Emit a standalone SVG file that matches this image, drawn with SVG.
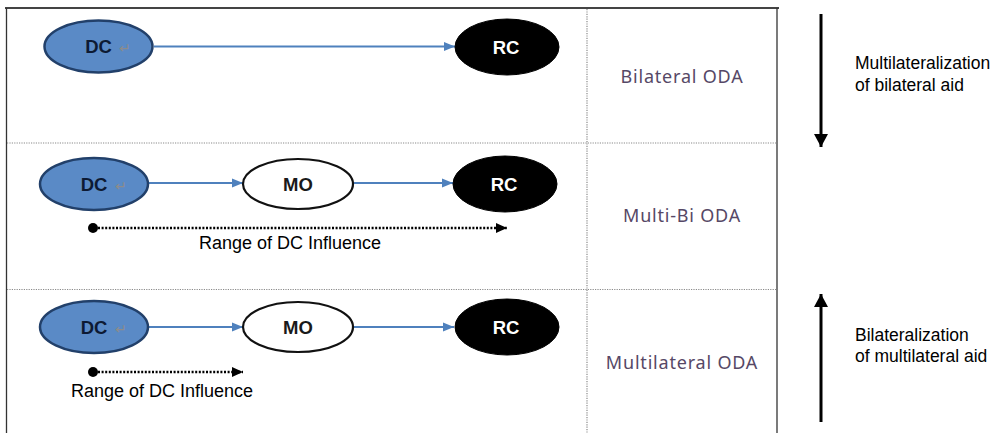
<svg xmlns="http://www.w3.org/2000/svg" width="1000" height="433" viewBox="0 0 1000 433">
<style>
.dc{fill:#5a8ac6;stroke:#22406a;stroke-width:2.5}
.mo{fill:#ffffff;stroke:#111;stroke-width:2.2}
.rc{fill:#000;stroke:#000;stroke-width:1}
.lbl{font-family:"Liberation Sans",Arial,sans-serif;font-weight:bold;font-size:18.5px;text-anchor:middle}
.pm{font-family:"DejaVu Sans",sans-serif;font-size:14px;fill:#8c8c8c}
.flow{stroke:#4f81bd;stroke-width:2;fill:none}
.dot{stroke:#000;stroke-width:2.5;stroke-dasharray:2 1.6;fill:none}
.big{stroke:#000;stroke-width:3;fill:none}
.txt{font-family:"Liberation Sans",Arial,sans-serif;font-size:18px;fill:#000}
.side{font-family:"Liberation Sans",Arial,sans-serif;font-size:17.5px;fill:#000}
.oda{font-family:"Noto Sans",sans-serif;font-size:18px;fill:#564866;text-anchor:middle;letter-spacing:0.8px}
.grid{stroke:#8a8a8a;stroke-width:1.2;stroke-dasharray:1.2 1.2;fill:none}
.frame{stroke:#333;stroke-width:1.3;fill:none}
</style>
<defs>
<marker id="blue" markerUnits="userSpaceOnUse" markerWidth="12" markerHeight="12" refX="11" refY="6" orient="auto"><path d="M0,1.5 L11,6 L0,10.5 z" fill="#4f81bd"/></marker>
<marker id="blk" markerUnits="userSpaceOnUse" markerWidth="12" markerHeight="12" refX="11" refY="6" orient="auto"><path d="M0,1 L11,6 L0,11 z" fill="#000"/></marker>
<marker id="bigh" markerUnits="userSpaceOnUse" markerWidth="14" markerHeight="16" refX="13" refY="8" orient="auto"><path d="M0,1 L13,8 L0,15 z" fill="#000"/></marker>
</defs>

<g id="table">
<line x1="5" y1="8" x2="779" y2="8" stroke="#444" stroke-width="2.2"/>
<line class="frame" x1="6.5" y1="8" x2="6.5" y2="433"/>
<line class="frame" x1="777" y1="8" x2="777" y2="433"/>
<line class="grid" x1="587" y1="9" x2="587" y2="433"/>
<line class="grid" x1="7" y1="143" x2="777" y2="143"/>
<line class="grid" x1="7" y1="289.5" x2="777" y2="289.5"/>
</g>

<g id="connectors">
<line class="flow" x1="154" y1="46.5" x2="455" y2="46.5" marker-end="url(#blue)"/>
<line class="flow" x1="148" y1="183" x2="243" y2="183" marker-end="url(#blue)"/>
<line class="flow" x1="353" y1="183" x2="453" y2="183" marker-end="url(#blue)"/>
<line class="flow" x1="148" y1="327" x2="243" y2="327" marker-end="url(#blue)"/>
<line class="flow" x1="353" y1="327" x2="454" y2="327" marker-end="url(#blue)"/>
<line class="dot" x1="98" y1="228" x2="507" y2="228" marker-end="url(#blk)"/>
<circle cx="93" cy="228" r="5"/>
<line class="dot" x1="98" y1="372" x2="243" y2="372" marker-end="url(#blk)"/>
<circle cx="93" cy="372" r="5"/>
<line class="big" x1="821" y1="14" x2="821" y2="147" marker-end="url(#bigh)"/>
<line class="big" x1="821" y1="422" x2="821" y2="294" marker-end="url(#bigh)"/>
</g>

<g id="dc1"><ellipse class="dc" cx="98.5" cy="46.5" rx="54" ry="26"/><text class="lbl" x="98.5" y="53" fill="#0d1a33">DC</text><text class="pm" x="119" y="53">↵</text></g>
<g id="rc1"><ellipse class="rc" cx="507" cy="47" rx="52" ry="28"/><text class="lbl" x="506" y="54" fill="#fff">RC</text></g>

<g id="dc2"><ellipse class="dc" cx="94" cy="184" rx="54" ry="26"/><text class="lbl" x="94" y="191" fill="#0d1a33">DC</text><text class="pm" x="115" y="191">↵</text></g>
<g id="mo2"><ellipse class="mo" cx="298" cy="184" rx="55" ry="25"/><text class="lbl" x="298" y="191" fill="#1a1a1a">MO</text></g>
<g id="rc2"><ellipse class="rc" cx="505" cy="184" rx="52" ry="28"/><text class="lbl" x="504" y="191" fill="#fff">RC</text></g>

<g id="dc3"><ellipse class="dc" cx="94" cy="327" rx="54" ry="26"/><text class="lbl" x="94" y="334" fill="#0d1a33">DC</text><text class="pm" x="115" y="334">↵</text></g>
<g id="mo3"><ellipse class="mo" cx="298" cy="327" rx="55" ry="25"/><text class="lbl" x="298" y="334" fill="#1a1a1a">MO</text></g>
<g id="rc3"><ellipse class="rc" cx="507" cy="327" rx="52" ry="28"/><text class="lbl" x="506" y="334" fill="#fff">RC</text></g>

<g id="range2"><text class="txt" x="290" y="249" text-anchor="middle">Range of DC Influence</text></g>
<g id="range3"><text class="txt" x="71" y="397">Range of DC Influence</text></g>

<g id="bilateral"><text class="oda" x="682" y="83">Bilateral ODA</text></g>
<g id="multibi"><text class="oda" x="682" y="222">Multi-Bi ODA</text></g>
<g id="multilateral"><text class="oda" x="682" y="369">Multilateral ODA</text></g>

<g id="multilateralization"><text class="side" x="855" y="69">Multilateralization</text><text class="side" x="855" y="91">of bilateral aid</text></g>
<g id="bilateralization"><text class="side" x="855" y="341">Bilateralization</text><text class="side" x="855" y="362">of multilateral aid</text></g>
</svg>
